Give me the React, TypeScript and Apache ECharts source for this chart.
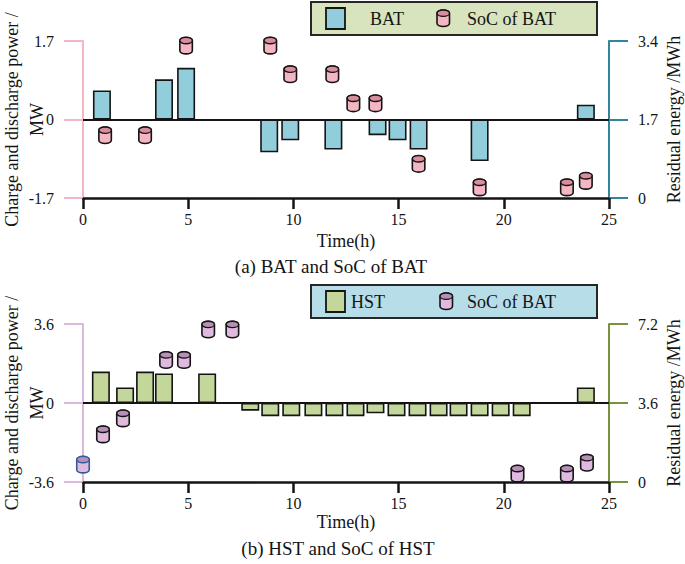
import React, { useEffect, useRef } from "react";
import * as echarts from "echarts";

// ---------- data ----------
const batHours = [0.9, 3.85, 4.9, 8.85, 9.85, 11.9, 14.0, 14.95, 15.95, 18.85, 23.9];
const batPower = [0.63, 0.87, 1.12, -0.71, -0.45, -0.65, -0.34, -0.45, -0.65, -0.9, 0.32];

const socBatHours = [1.05, 2.95, 4.9, 8.9, 9.85, 11.85, 12.85, 13.9, 15.95, 18.85, 23.0, 23.9];
const socBat = [1.36, 1.36, 3.3, 3.3, 2.68, 2.68, 2.05, 2.05, 0.74, 0.23, 0.23, 0.37];

const hstHours = [0.85, 2.0, 2.95, 3.85, 5.9, 7.95, 8.9, 9.9, 10.95, 11.95, 12.95, 13.9, 14.9, 15.9, 16.9, 17.85, 18.85, 19.85, 20.85, 23.9];
const hstPower = [1.43, 0.71, 1.43, 1.35, 1.35, -0.35, -0.6, -0.6, -0.6, -0.6, -0.6, -0.47, -0.6, -0.6, -0.6, -0.6, -0.6, -0.6, -0.6, 0.71];

const socHstHours = [0.0, 0.95, 1.9, 3.95, 4.8, 5.95, 7.1, 20.65, 23.0, 23.95];
const socHst = [0.79, 2.17, 2.9, 5.56, 5.56, 6.95, 6.95, 0.38, 0.38, 0.88];

const xTicks = { min: 0, max: 25, interval: 5 };
const batAxis = { min: -1.7, max: 1.7, interval: 1.7 };
const batSocAxis = { min: 0, max: 3.4, interval: 1.7 };
const hstAxis = { min: -3.6, max: 3.6, interval: 3.6 };
const hstSocAxis = { min: 0, max: 7.2, interval: 3.6 };

const xName = "Time(h)";
const leftName = "Charge and discharge power /\nMW";
const rightName = "Residual energy /MWh";
const captionA = "(a) BAT and SoC of BAT";
const captionB = "(b) HST and SoC of HST";
const legendA = ["BAT", "SoC of BAT"];
const legendB = ["HST", "SoC of BAT"];

// ---------- styles ----------
const FONT = "'Liberation Serif', 'Times New Roman', serif";
const INK = "#141414";
const BAT_FILL = "#92cddc";
const HST_FILL = "#c4d79b";
const PINK = "#f4b6c3";
const PINK_CAP = "#d98d9d";
const LAV = "#dfbade";
const LAV_CAP = "#b88fb7";
const FIRST_HST_STROKE = "#2e5d9a";

const CW = 12.5;
const CH = 16.5;
const CRY = 3.2;
const cylD = `M0,${CRY} A${CW / 2},${CRY} 0 0 1 ${CW},${CRY} L${CW},${CH - CRY} A${CW / 2},${CRY} 0 0 1 0,${CH - CRY} Z`;

let registered = false;
function ensureShape() {
  if (registered) return;
  echarts.graphic.registerShape("cylbody", echarts.graphic.extendPath(cylD, {}) as any);
  registered = true;
}

function cylinderRender(fill: string, cap: string, strokeFor: (i: number) => string) {
  return (params: any, api: any) => {
    const p = api.coord([api.value(0), api.value(1)]);
    const stroke = strokeFor(params.dataIndex);
    return {
      type: "group",
      x: p[0] - CW / 2,
      y: p[1] - CH / 2,
      children: [
        {
          type: "path",
          shape: { pathData: cylD, x: 0, y: 0, width: CW, height: CH },
          style: { fill, stroke, lineWidth: 1.6 },
        },
        {
          type: "ellipse",
          shape: { cx: CW / 2, cy: CRY, rx: CW / 2, ry: CRY },
          style: { fill: cap, stroke, lineWidth: 1.4 },
        },
      ],
    };
  };
}

function xAxisCfg(gridIndex: number, nameGap: number) {
  return {
    gridIndex,
    type: "value",
    ...xTicks,
    name: xName,
    nameLocation: "middle",
    nameGap,
    nameMoveOverlap: false,
    nameTextStyle: { fontSize: 18, fontFamily: FONT, color: INK },
    axisLine: { show: true, onZero: false, lineStyle: { color: INK, width: 2.5 } },
    axisTick: { show: true, length: 11, lineStyle: { color: INK, width: 2.5 } },
    axisLabel: { margin: 13, fontSize: 16, fontFamily: FONT, color: INK },
    splitLine: { show: false },
  };
}

function yAxisCfg(gridIndex: number, position: string, range: any, color: string, name: string, nameGap: number) {
  return {
    gridIndex,
    type: "value",
    position,
    ...range,
    name,
    nameLocation: "middle",
    nameRotate: 90,
    nameGap,
    nameMoveOverlap: false,
    nameTextStyle: { fontSize: 18, fontFamily: FONT, color: INK, lineHeight: 25 },
    axisLine: { show: true, onZero: false, lineStyle: { color, width: 2 } },
    axisTick: { show: true, length: 19, lineStyle: { color, width: 2 } },
    axisLabel: { margin: 29, fontSize: 16, fontFamily: FONT, color: INK },
    splitLine: { show: false },
  };
}

const zeroLine = {
  silent: true,
  symbol: ["none", "none"],
  label: { show: false },
  lineStyle: { color: INK, width: 2, type: "solid" },
  data: [{ yAxis: 0 }],
};

function legendGraphic(top: number, bg: string, sqFill: string, cylFill: string, cylCap: string, labels: string[], label1X: number, cylX: number) {
  return [
    { type: "rect", shape: { x: 311, y: top, width: 286, height: 33 }, style: { fill: bg, stroke: "#262626", lineWidth: 2 } },
    { type: "rect", shape: { x: 326, y: top + 6, width: 19, height: 21 }, style: { fill: sqFill, stroke: INK, lineWidth: 1.8 } },
    { type: "text", style: { x: label1X, y: top + 17, text: labels[0], font: `18px ${FONT}`, fill: INK, align: "left", verticalAlign: "middle" } },
    { type: "cylbody", x: cylX, y: top + 8, style: { fill: cylFill, stroke: INK, lineWidth: 1.6 } },
    { type: "ellipse", shape: { cx: cylX + CW / 2, cy: top + 8 + CRY, rx: CW / 2, ry: CRY }, style: { fill: cylCap, stroke: INK, lineWidth: 1.4 } },
    { type: "text", style: { x: 467, y: top + 17, text: labels[1], font: `18px ${FONT}`, fill: INK, align: "left", verticalAlign: "middle" } },
  ];
}

export default function App() {
  const ref = useRef<HTMLDivElement>(null);
  useEffect(() => {
    if (!ref.current) return;
    ensureShape();
    const chart = echarts.init(ref.current, undefined, { renderer: "svg" });
    const option: any = {
      animation: false,
      backgroundColor: "#ffffff",
      textStyle: { fontFamily: FONT },
      grid: [
        { left: 83, right: 76, top: 41, height: 157, containLabel: false, outerBoundsMode: "none" },
        { left: 83, right: 76, top: 324, height: 158, containLabel: false, outerBoundsMode: "none" },
      ],
      xAxis: [xAxisCfg(0, 34), xAxisCfg(1, 31)],
      yAxis: [
        yAxisCfg(0, "left", batAxis, "#f4b6c2", leftName, 34),
        yAxisCfg(0, "right", batSocAxis, "#31869b", rightName, 52),
        yAxisCfg(1, "left", hstAxis, "#dcb8dc", leftName, 34),
        yAxisCfg(1, "right", hstSocAxis, "#77933c", rightName, 52),
      ],
      series: [
        {
          type: "bar",
          name: "BAT",
          xAxisIndex: 0,
          yAxisIndex: 0,
          barWidth: 18,
          data: batHours.map((h, i) => [h, batPower[i]]),
          itemStyle: { color: BAT_FILL, borderColor: INK, borderWidth: 1.6 },
          markLine: zeroLine,
        },
        {
          type: "custom",
          name: "SoC of BAT",
          xAxisIndex: 0,
          yAxisIndex: 1,
          data: socBatHours.map((h, i) => [h, socBat[i]]),
          encode: { x: 0, y: 1 },
          renderItem: cylinderRender(PINK, PINK_CAP, () => INK),
          z: 5,
        },
        {
          type: "bar",
          name: "HST",
          xAxisIndex: 1,
          yAxisIndex: 2,
          barWidth: 18,
          data: hstHours.map((h, i) => [h, hstPower[i]]),
          itemStyle: { color: HST_FILL, borderColor: INK, borderWidth: 1.6 },
          markLine: zeroLine,
        },
        {
          type: "custom",
          name: "SoC of HST",
          xAxisIndex: 1,
          yAxisIndex: 3,
          data: socHstHours.map((h, i) => [h, socHst[i]]),
          encode: { x: 0, y: 1 },
          renderItem: cylinderRender(LAV, LAV_CAP, (i) => (i === 0 ? FIRST_HST_STROKE : INK)),
          z: 5,
        },
      ],
      graphic: [
        ...legendGraphic(2, "#d7e4bd", BAT_FILL, PINK, PINK_CAP, legendA, 370, 437),
        ...legendGraphic(285, "#b7dee8", HST_FILL, LAV, LAV_CAP, legendB, 351, 440),
        { type: "text", style: { x: 331, y: 266, text: captionA, font: `19px ${FONT}`, fill: INK, align: "center", verticalAlign: "middle" } },
        { type: "text", style: { x: 338, y: 548, text: captionB, font: `19px ${FONT}`, fill: INK, align: "center", verticalAlign: "middle" } },
      ],
    };
    chart.setOption(option);
    return () => chart.dispose();
  }, []);
  return <div ref={ref} style={{ position: "absolute", left: 0, top: 0, width: 685, height: 564 }} />;
}
